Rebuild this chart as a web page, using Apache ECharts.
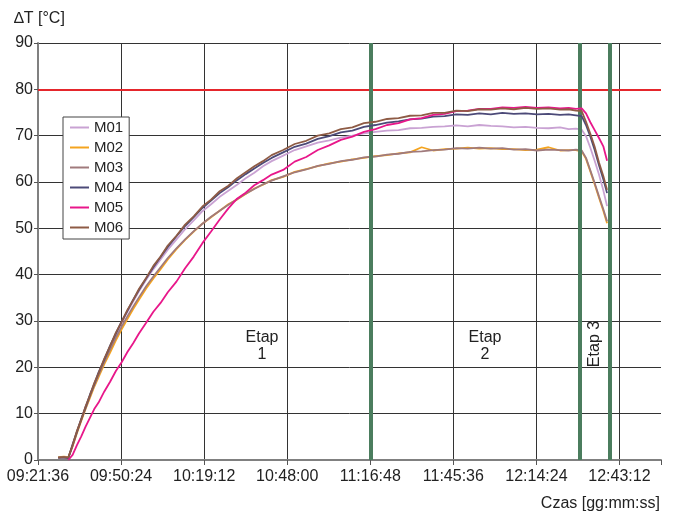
<!DOCTYPE html>
<html>
<head>
<meta charset="utf-8">
<script src="https://cdn.jsdelivr.net/npm/echarts@6/dist/echarts.min.js"></script>
<style>
html,body{margin:0;padding:0;background:#fff;}
#chart{width:675px;height:512px;}
</style>
</head>
<body>
<div id="chart"></div>
<script>
// time in minutes after 09:21:36
const startTime = "09:21:36";
const tickMinutes = 28.8;
const times = [7, 9, 10.5, 12, 13.5, 15, 16.5, 18, 19.5, 21, 23, 25, 27, 29, 31, 33, 35, 37.5, 40, 42.5, 45, 48, 51, 54, 57, 60, 63, 66, 69, 72, 75, 78, 81, 85, 89, 93, 97, 101, 105, 109, 113, 117, 121, 125, 129, 133, 137, 141, 145, 149, 153, 157, 161, 165, 169, 173, 177, 181, 184, 186.5, 188.5, 190, 191.5, 193, 194.5, 196, 197.3];

const M01 = [0.4, 0.5, 0.5, 3.0, 6.0, 8.6, 11.3, 13.8, 16.3, 18.6, 21.6, 24.4, 27.1, 29.6, 32.0, 34.2, 36.4, 38.9, 41.2, 43.3, 45.4, 47.6, 49.8, 51.7, 53.7, 55.2, 56.8, 58.1, 59.4, 60.8, 62.0, 63.4, 64.5, 65.7, 66.9, 67.7, 68.5, 69.0, 69.6, 70.0, 70.5, 70.8, 71.1, 71.2, 71.6, 71.7, 71.9, 72.0, 72.2, 72.0, 72.3, 72.1, 72.0, 71.8, 71.9, 71.7, 71.6, 71.8, 71.4, 71.5, 71.3, 69.9, 67.4, 64.6, 61.6, 58.2, 54.8];
const M02 = [0.6, 0.7, 0.6, 3.0, 5.8, 8.5, 11.0, 13.4, 15.8, 17.9, 20.7, 23.2, 25.8, 28.2, 30.4, 32.6, 34.6, 37.0, 39.2, 41.2, 43.3, 45.5, 47.5, 49.3, 51.0, 52.4, 53.8, 55.2, 56.2, 57.4, 58.6, 59.4, 60.4, 61.1, 62.2, 62.8, 63.4, 64.0, 64.4, 64.9, 65.2, 65.6, 65.8, 66.2, 66.4, 67.5, 66.8, 67.1, 67.2, 67.4, 67.2, 67.3, 67.1, 67.1, 66.9, 67.0, 67.5, 66.8, 66.9, 66.9, 66.6, 65.0, 62.3, 59.5, 56.6, 53.8, 51.1];
const M03 = [0.5, 0.6, 0.5, 3.1, 6.0, 8.7, 11.2, 13.7, 16.1, 18.3, 21.2, 23.8, 26.4, 28.8, 31.0, 33.1, 35.1, 37.5, 39.6, 41.6, 43.6, 45.7, 47.6, 49.4, 51.0, 52.5, 53.8, 55.1, 56.3, 57.5, 58.5, 59.5, 60.3, 61.2, 62.1, 62.7, 63.5, 63.9, 64.5, 64.8, 65.3, 65.5, 65.9, 66.1, 66.5, 66.6, 66.9, 67.0, 67.3, 67.2, 67.4, 67.2, 67.3, 67.0, 67.1, 66.8, 67.0, 66.9, 66.8, 67.0, 66.8, 65.2, 62.5, 59.8, 56.9, 54.1, 51.5];
const M04 = [0.5, 0.5, 0.4, 3.4, 6.1, 8.9, 11.4, 14.1, 16.4, 18.9, 21.7, 24.7, 27.3, 29.9, 32.2, 34.6, 36.7, 39.2, 41.6, 43.8, 46.0, 48.3, 50.5, 52.4, 54.4, 56.0, 57.6, 58.9, 60.4, 61.7, 62.9, 64.1, 65.2, 66.4, 67.6, 68.3, 69.3, 69.9, 70.7, 71.1, 71.9, 72.3, 72.8, 73.1, 73.5, 73.7, 74.1, 74.2, 74.6, 74.5, 74.8, 74.6, 74.9, 74.7, 74.8, 74.6, 74.7, 74.5, 74.6, 74.4, 74.2, 72.3, 69.8, 66.9, 63.6, 60.6, 57.6];
const M05 = [null, null, 0, 1.1, 3.2, 5.1, 7.2, 9.1, 11.0, 12.4, 14.8, 16.9, 19.2, 21.1, 23.3, 25.2, 27.3, 29.6, 32.0, 33.9, 36.2, 38.5, 41.4, 43.9, 46.8, 49.3, 51.9, 54.3, 56.4, 57.7, 59.3, 60.4, 61.6, 62.6, 64.4, 65.4, 66.9, 67.9, 69.1, 69.8, 70.8, 71.4, 72.3, 72.7, 73.5, 73.8, 74.5, 74.7, 75.3, 75.4, 75.8, 75.8, 76.1, 76.0, 76.2, 76.0, 76.1, 75.9, 76.0, 75.8, 75.9, 74.8, 72.9, 71.2, 69.5, 67.7, 64.6];
const M06 = [0.5, 0.6, 0.5, 3.2, 6.3, 8.7, 11.6, 13.9, 16.6, 18.7, 21.9, 24.6, 27.5, 29.8, 32.4, 34.5, 36.9, 39.3, 41.9, 43.9, 46.3, 48.4, 50.8, 52.6, 54.7, 56.2, 58.0, 59.2, 60.8, 62.1, 63.4, 64.5, 65.8, 66.9, 68.2, 68.9, 70.0, 70.5, 71.4, 71.8, 72.7, 73.0, 73.6, 73.8, 74.3, 74.4, 74.9, 74.9, 75.4, 75.3, 75.7, 75.6, 75.9, 75.7, 76.0, 75.8, 75.9, 75.6, 75.7, 75.4, 75.3, 73.0, 70.4, 67.6, 64.2, 61.3, 58.3];

const seriesNames = ["M01", "M02", "M03", "M04", "M05", "M06"];
const seriesValues = [M01, M02, M03, M04, M05, M06];
const seriesColors = ["#c9a2d3", "#f4a41f", "#a07a7c", "#4c4a78", "#e8178a", "#8e5b45"];

const stageLines = [115.2, 188, 198.1];   // minutes after start
const limitValue = 80;
const stageLabels = ["Etap\n1", "Etap\n2", "Etap 3"];

function toClock(mins) {
  const p = startTime.split(":").map(Number);
  let s = p[0] * 3600 + p[1] * 60 + p[2] + Math.round(mins * 60);
  const h = Math.floor(s / 3600); s -= h * 3600;
  const m = Math.floor(s / 60); s -= m * 60;
  const pad = n => (n < 10 ? "0" : "") + n;
  return pad(h) + ":" + pad(m) + ":" + pad(s);
}

const FONT = "Liberation Sans, Arial, sans-serif";
const chart = echarts.init(document.getElementById("chart"), null, {renderer: "canvas"});

const series = seriesNames.map((name, k) => ({
  name: name,
  type: "line",
  symbol: "none",
  showSymbol: false,
  data: times.map((t, i) => [t, seriesValues[k][i]]),
  lineStyle: {color: seriesColors[k], width: 1.8},
  itemStyle: {color: seriesColors[k]},
  z: 2 + k,
  animation: false
}));

series.push({
  type: "line",
  data: [],
  z: 20,
  silent: true,
  animation: false,
  markLine: {
    symbol: ["none", "none"],
    silent: true,
    animation: false,
    label: {show: false},
    data: [
      {yAxis: limitValue, lineStyle: {color: "#e5262c", width: 2, type: "solid"}}
    ].concat(stageLines.map(v => ({xAxis: v, lineStyle: {color: "#4b7d5e", width: 4, type: "solid"}})))
  }
});

chart.setOption({
  animation: false,
  backgroundColor: "#ffffff",
  grid: {left: 38, right: 14, top: 43, bottom: 52, containLabel: false},
  legend: {
    data: seriesNames,
    orient: "vertical",
    left: 63,
    top: 117,
    padding: [3, 6, 4, 6],
    itemWidth: 19,
    itemHeight: 12,
    itemGap: 5,
    borderColor: "#444",
    borderWidth: 1,
    backgroundColor: "#fff",
    itemStyle: {opacity: 0},
    lineStyle: {width: 2},
    textStyle: {fontFamily: FONT, fontSize: 15, color: "#222"},
    z: 30
  },
  xAxis: {
    type: "value",
    min: 0,
    max: 216,
    interval: tickMinutes,
    axisLine: {show: true, onZero: false, lineStyle: {color: "#808080", width: 2}},
    axisTick: {show: true, length: 5, lineStyle: {color: "#555", width: 1}},
    axisLabel: {
      margin: 9,
      fontFamily: FONT, fontSize: 16, color: "#222",
      formatter: function (v) {
        const k = v / tickMinutes;
        if (Math.abs(k - Math.round(k)) > 1e-6) return "";
        return toClock(v);
      }
    },
    splitLine: {show: true, showMaxLine: false, lineStyle: {color: "#333", width: 1}}
  },
  yAxis: {
    type: "value",
    min: 0,
    max: 90,
    interval: 10,
    axisLine: {show: true, lineStyle: {color: "#808080", width: 2}},
    axisTick: {show: true, length: 4, lineStyle: {color: "#555", width: 1}},
    axisLabel: {margin: 5, fontFamily: FONT, fontSize: 16, color: "#222"},
    splitLine: {show: true, lineStyle: {color: "#333", width: 1}}
  },
  graphic: [
    {type: "text", left: 14, top: 11, z: 50,
     style: {text: "\u2206T [\u00b0C]", font: "16px " + FONT, fill: "#222"}},
    {type: "text", right: 15, top: 496, z: 50,
     style: {text: "Czas [gg:mm:ss]", font: "16px " + FONT, fill: "#222"}},
    {type: "text", x: 262, y: 346, z: 50,
     style: {text: stageLabels[0], font: "16px " + FONT, fill: "#222", align: "center", verticalAlign: "middle", textAlign: "center", textVerticalAlign: "middle", lineHeight: 17}},
    {type: "text", x: 485, y: 346, z: 50,
     style: {text: stageLabels[1], font: "16px " + FONT, fill: "#222", align: "center", verticalAlign: "middle", textAlign: "center", textVerticalAlign: "middle", lineHeight: 17}},
    {type: "text", x: 595, y: 344, rotation: Math.PI / 2, z: 50,
     style: {text: stageLabels[2], font: "16px " + FONT, fill: "#222", align: "center", verticalAlign: "middle", textAlign: "center", textVerticalAlign: "middle"}}
  ],
  series: series
});
</script>
</body>
</html>
